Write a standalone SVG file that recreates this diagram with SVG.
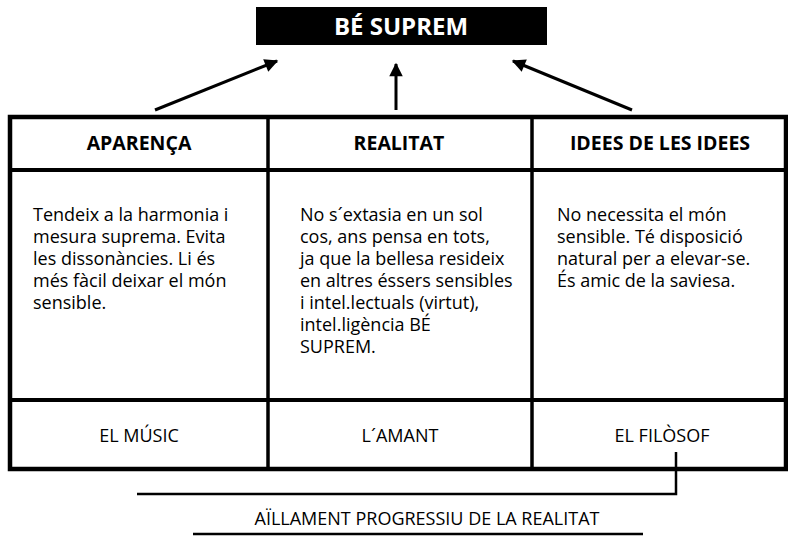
<svg xmlns="http://www.w3.org/2000/svg" width="788" height="536" viewBox="0 0 788 536">
<style>
.hdr{font-family:"Open Sans","Liberation Sans",sans-serif;font-weight:bold;font-size:19.5px;fill:#000;text-anchor:middle}
.body{font-family:"Open Sans","Liberation Sans",sans-serif;font-size:18px;fill:#000}
.ftr{font-family:"Open Sans","Liberation Sans",sans-serif;font-size:18px;fill:#000;text-anchor:middle}
.title{font-family:"Open Sans","Liberation Sans",sans-serif;font-weight:bold;font-size:24px;fill:#fff;text-anchor:middle}
.ln{stroke:#000;fill:none}
</style>
<defs>
<marker id="ah" viewBox="0 0 10 10" refX="9" refY="5" markerWidth="5.5" markerHeight="4.5" orient="auto" markerUnits="strokeWidth">
<path d="M0,0 L10,5 L0,10 Z" fill="#000"/>
</marker>
</defs>
<rect width="788" height="536" fill="#fff"/>
<g id="be-suprem">
<rect x="256" y="7" width="291" height="38" fill="#000"/>
<text class="title" x="401" y="35">BÉ SUPREM</text>
</g>
<g id="connectors">
<line class="ln" stroke-width="3" x1="155" y1="110" x2="277" y2="61" marker-end="url(#ah)"/>
<line class="ln" stroke-width="3" x1="396" y1="110" x2="396" y2="64" marker-end="url(#ah)"/>
<line class="ln" stroke-width="3" x1="632" y1="110" x2="513" y2="61" marker-end="url(#ah)"/>
<polyline class="ln" stroke-width="2.5" points="676,452 676,494 137,494"/>
</g>
<g id="table">
<rect class="ln" stroke-width="4.5" x="10" y="117" width="776" height="352"/>
<line class="ln" stroke-width="4" x1="10" y1="170" x2="786" y2="170"/>
<line class="ln" stroke-width="4" x1="10" y1="400" x2="786" y2="400"/>
<line class="ln" stroke-width="3.5" x1="268" y1="117" x2="268" y2="469"/>
<line class="ln" stroke-width="3.5" x1="532" y1="117" x2="532" y2="469"/>
</g>
<g id="aparenca">
<text class="hdr" x="139" y="150">APARENÇA</text>
<text class="body" x="33" y="221">
<tspan x="33" dy="0">Tendeix a la harmonia i</tspan>
<tspan x="33" dy="22">mesura suprema. Evita</tspan>
<tspan x="33" dy="22">les dissonàncies. Li és</tspan>
<tspan x="33" dy="22">més fàcil deixar el món</tspan>
<tspan x="33" dy="22">sensible.</tspan>
</text>
<text class="ftr" x="139" y="442">EL MÚSIC</text>
</g>
<g id="realitat">
<text class="hdr" x="399" y="150">REALITAT</text>
<text class="body" x="300" y="221">
<tspan x="300" dy="0">No s´extasia en un sol</tspan>
<tspan x="300" dy="22">cos, ans pensa en tots,</tspan>
<tspan x="300" dy="22">ja que la bellesa resideix</tspan>
<tspan x="300" dy="22">en altres éssers sensibles</tspan>
<tspan x="300" dy="22">i intel.lectuals (virtut),</tspan>
<tspan x="300" dy="22">intel.ligència BÉ</tspan>
<tspan x="300" dy="22">SUPREM.</tspan>
</text>
<text class="ftr" x="400" y="442">L´AMANT</text>
</g>
<g id="idees">
<text class="hdr" x="660" y="150">IDEES DE LES IDEES</text>
<text class="body" x="557" y="221">
<tspan x="557" dy="0">No necessita el món</tspan>
<tspan x="557" dy="22">sensible. Té disposició</tspan>
<tspan x="557" dy="22">natural per a elevar-se.</tspan>
<tspan x="557" dy="22">És amic de la saviesa.</tspan>
</text>
<text class="ftr" x="662" y="442">EL FILÒSOF</text>
</g>
<g id="aillament">
<text class="ftr" x="427" y="525">AÏLLAMENT PROGRESSIU DE LA REALITAT</text>
<line class="ln" stroke-width="2.5" x1="193" y1="534" x2="643" y2="534"/>
</g>
</svg>
